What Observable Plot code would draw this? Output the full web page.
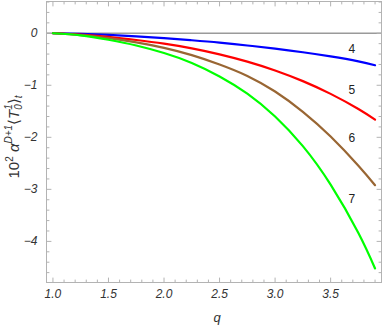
<!DOCTYPE html>
<html>
<head>
<meta charset="utf-8">
<script src="https://cdn.jsdelivr.net/npm/d3@7"></script>
<script src="https://cdn.jsdelivr.net/npm/@observablehq/plot@0.6"></script>
<style>
  html, body { margin: 0; padding: 0; background: #fff; }
  #chart svg { display: block; }
</style>
</head>
<body>
<div id="chart"></div>
<script>
// ---- data ----
const q      = [1.0, 1.25, 1.5, 1.75, 2.0, 2.25, 2.5, 2.75, 3.0, 3.25, 3.5, 3.75, 3.9];
const curve4 = [0, -0.01, -0.03, -0.06, -0.095, -0.135, -0.18, -0.235, -0.295, -0.365, -0.445, -0.54, -0.615];
const curve5 = [0, -0.025, -0.07, -0.13, -0.20, -0.29, -0.405, -0.545, -0.715, -0.92, -1.165, -1.455, -1.66];
const curve6 = [0, -0.035, -0.095, -0.175, -0.28, -0.42, -0.60, -0.82, -1.12, -1.51, -1.985, -2.545, -2.92];
const curve7 = [0, -0.04, -0.125, -0.235, -0.38, -0.57, -0.83, -1.16, -1.60, -2.17, -2.91, -3.84, -4.52];
const seriesNames  = ["4", "5", "6", "7"];
const seriesColors = ["#0000ff", "#ff0000", "#996633", "#00ff00"];
const labelQ = [3.69, 3.69, 3.69, 3.69];
const labelV = [-0.30, -1.10, -2.02, -3.18];

const xMajor = [1.0, 1.5, 2.0, 2.5, 3.0, 3.5];
const yMajor = [0, -1, -2, -3, -4];
const xDomain = [0.942, 3.958];
const yDomain = [-4.79, 0.61];

// ---- build tables ----
const allSeries = [curve4, curve5, curve6, curve7];
const rows = allSeries.flatMap((vals, i) => vals.map((v, j) => ({q: q[j], v, s: seriesNames[i]})));
const labels = seriesNames.map((s, i) => ({s, q: labelQ[i], v: labelV[i]}));

const isMult = (v, step) => Math.abs(v / step - Math.round(v / step)) < 1e-6;
const xMinor = d3.range(10, 40).map(i => i / 10).filter(v => !isMult(v, 0.5));
const yMinor = d3.range(-23, 4).map(i => i / 5).filter(v => !isMult(v, 1));

const tickShape = {draw(ctx, l) { ctx.moveTo(0, 0); ctx.lineTo(0, -l); }};
const frameGray = "#b3b3b3";

function ticks(data, side, len) {
  const common = {length: len, anchor: "start", shape: tickShape, stroke: frameGray, strokeWidth: 1};
  if (side === "bottom") return Plot.vector(data, {x: d => d, y: yDomain[0], rotate: 0, ...common});
  if (side === "top")    return Plot.vector(data, {x: d => d, y: yDomain[1], rotate: 180, ...common});
  if (side === "left")   return Plot.vector(data, {y: d => d, x: xDomain[0], rotate: 90, ...common});
  return Plot.vector(data, {y: d => d, x: xDomain[1], rotate: -90, ...common});
}

const fmtY = d => d < 0 ? "\u2212" + Math.abs(d) : String(d);

const chart = Plot.plot({
  width: 382,
  height: 327,
  marginLeft: 46,
  marginRight: 1,
  marginTop: 1,
  marginBottom: 45,
  x: {domain: xDomain},
  y: {domain: yDomain},
  style: {fontFamily: "'Liberation Sans', Arial, sans-serif", fontSize: "12px", background: "#fff"},
  marks: [
    Plot.ruleY([0], {stroke: "#9a9a9a", strokeWidth: 1.4}),
    ...seriesNames.map((s, i) => Plot.line(rows.filter(r => r.s === s), {
      x: "q", y: "v", stroke: seriesColors[i], strokeWidth: 2.2, curve: "natural"
    })),
    Plot.text(labels, {x: "q", y: "v", text: "s", fill: "#222", fontSize: 12}),
    Plot.frame({stroke: frameGray, strokeWidth: 1}),
    ticks(xMajor, "bottom", 4.5), ticks(xMinor, "bottom", 2.5),
    ticks(xMajor, "top", 4.5), ticks(xMinor, "top", 2.5),
    ticks(yMajor, "left", 4.5), ticks(yMinor, "left", 2.5),
    ticks(yMajor, "right", 4.5), ticks(yMinor, "right", 2.5),
    Plot.axisX(xMajor, {tickSize: 0, tickPadding: 7, tickFormat: d => d.toFixed(1), fontStyle: "italic", fill: "#333", fontSize: 12, label: null}),
    Plot.axisY(yMajor, {tickSize: 0, tickPadding: 9, tickFormat: fmtY, fontStyle: "italic", fill: "#333", fontSize: 12, label: null}),
    Plot.text(["q"], {frameAnchor: "bottom", dx: 3, dy: 39, text: d => d, fontStyle: "italic", fontSize: 13, fill: "#333"})
  ]
});

document.getElementById("chart").appendChild(chart);

// rotated y-axis title with super/subscripts as real text
const svg = d3.select(chart);
const t = svg.append("text")
  .attr("transform", "translate(19,137) rotate(-90)")
  .attr("text-anchor", "middle")
  .attr("fill", "#333")
  .attr("font-family", "'Liberation Sans', Arial, sans-serif")
  .attr("font-size", 15);
const parts = [
  {s: "10", dy: 0},
  {s: "2", size: 10, dy: -6},
  {s: "\u00a0", dy: 6},
  {s: "\u03b1", italic: true},
  {s: "D+1", size: 10, italic: true, dy: -7},
  {s: "\u27e8", dy: 7},
  {s: "T", italic: true},
  {s: "0", size: 10, italic: true, dy: 3},
  {s: "1", size: 10, italic: true, dx: -5.6, dy: -10},
  {s: "\u27e9", dy: 7},
  {s: "t", size: 10, italic: true, dy: 3}
];
for (const p of parts) {
  const ts = t.append("tspan").text(p.s);
  if (p.size) ts.attr("font-size", p.size);
  if (p.italic) ts.attr("font-style", "italic");
  if (p.dy) ts.attr("dy", p.dy);
  if (p.dx) ts.attr("dx", p.dx);
}
</script>
</body>
</html>
